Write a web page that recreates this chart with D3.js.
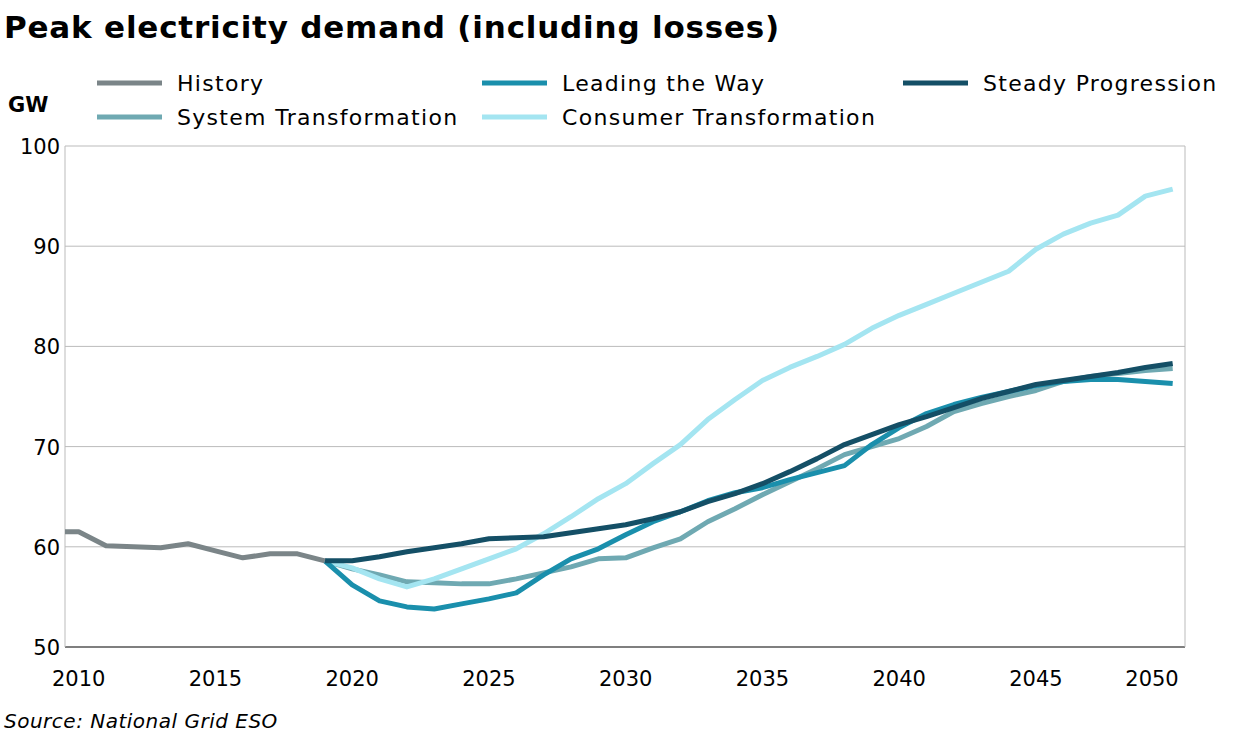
<!DOCTYPE html><html><head><meta charset="utf-8"><script src="https://cdn.jsdelivr.net/npm/d3@7"></script>
<style>body{margin:0;background:#fff;font-family:"DejaVu Sans",sans-serif}</style></head><body><svg id="c" width="1241" height="745"></svg><script>
const histYears=[2009.5,2010,2011,2012,2013,2014,2015,2016,2017,2018,2019];
const history=[61.5,61.5,60.1,60.0,59.9,60.3,59.6,58.9,59.3,59.3,58.6];
const projYears=d3.range(2019,2051);
const steady=[58.6,58.6,59.0,59.5,59.9,60.3,60.8,60.9,61.0,61.4,61.8,62.2,62.8,63.5,64.5,65.3,66.3,67.5,68.8,70.2,71.2,72.2,73.0,73.9,74.8,75.5,76.2,76.6,77.0,77.4,77.9,78.3];
const leading=[58.6,56.2,54.6,54.0,53.8,54.3,54.8,55.4,57.2,58.8,59.8,61.2,62.5,63.5,64.6,65.4,65.9,66.7,67.4,68.1,70.2,71.9,73.3,74.2,74.9,75.5,76.1,76.5,76.7,76.7,76.5,76.3];
const system=[58.6,57.8,57.2,56.5,56.4,56.3,56.3,56.8,57.4,58.0,58.8,58.9,59.9,60.8,62.5,63.8,65.2,66.5,67.8,69.2,70.0,70.8,72.0,73.5,74.3,75.0,75.6,76.5,77.0,77.3,77.6,77.8];
const consumer=[58.6,57.9,56.8,56.0,56.8,57.8,58.8,59.8,61.3,63.0,64.8,66.3,68.3,70.2,72.7,74.7,76.6,77.9,79.0,80.2,81.8,83.1,84.2,85.3,86.4,87.5,89.7,91.2,92.3,93.1,95.0,95.7];
const xTicks=[2010,2015,2020,2025,2030,2035,2040,2045,2050];
const yTicks=[50,60,70,80,90,100];
const series=[
 {name:"System Transformation",years:projYears,vals:system,color:"#6fa9b2"},
 {name:"Consumer Transformation",years:projYears,vals:consumer,color:"#a4e5f1"},
 {name:"Leading the Way",years:projYears,vals:leading,color:"#1a8fac"},
 {name:"Steady Progression",years:projYears,vals:steady,color:"#144f66"},
 {name:"History",years:histYears,vals:history,color:"#7b8588"}];
const svg=d3.select("#c");
const x=d3.scaleLinear().domain([2009.5,2050.45]).range([65,1185]);
const y=d3.scaleLinear().domain([50,100]).range([647,146]);
svg.append("text").attr("x",4).attr("y",38).attr("font-size",31).attr("font-weight","bold").attr("letter-spacing",0.8).text("Peak electricity demand (including losses)");
svg.append("text").attr("x",8).attr("y",112).attr("font-size",21).attr("font-weight","bold").text("GW");
const g=svg.append("g");
yTicks.forEach(t=>{g.append("line").attr("x1",65).attr("x2",1185).attr("y1",y(t)).attr("y2",y(t)).attr("stroke",t==50?"#555":"#bbb").attr("stroke-width",t==50?1.5:1);
 g.append("text").attr("x",60).attr("y",y(t)+8).attr("text-anchor","end").attr("font-size",21).text(t);});
g.append("line").attr("x1",65).attr("x2",65).attr("y1",146).attr("y2",647).attr("stroke","#bbb");
g.append("line").attr("x1",1185).attr("x2",1185).attr("y1",146).attr("y2",647).attr("stroke","#bbb");
xTicks.forEach(t=>g.append("text").attr("x",Math.min(x(t),1152)).attr("y",686).attr("text-anchor","middle").attr("font-size",21).text(t));
const line=d3.line();
series.forEach(s=>g.append("path").attr("d",line(s.years.map((yr,i)=>[x(yr),y(s.vals[i])]))).attr("fill","none").attr("stroke",s.color).attr("stroke-width",5).attr("stroke-linejoin","round"));
const leg=[["History",97,83,"#7b8588"],["Leading the Way",482,83,"#1a8fac"],["Steady Progression",903,83,"#144f66"],["System Transformation",97,117,"#6fa9b2"],["Consumer Transformation",482,117,"#a4e5f1"]];
leg.forEach(([n,lx,ly,c])=>{svg.append("line").attr("x1",lx).attr("x2",lx+65).attr("y1",ly).attr("y2",ly).attr("stroke",c).attr("stroke-width",5);
 svg.append("text").attr("x",lx+80).attr("y",ly+8).attr("font-size",22).attr("letter-spacing",1.3).text(n);});
svg.append("text").attr("x",4).attr("y",728).attr("font-size",20).attr("font-style","italic").attr("letter-spacing",0.5).text("Source: National Grid ESO");
</script></body></html>
